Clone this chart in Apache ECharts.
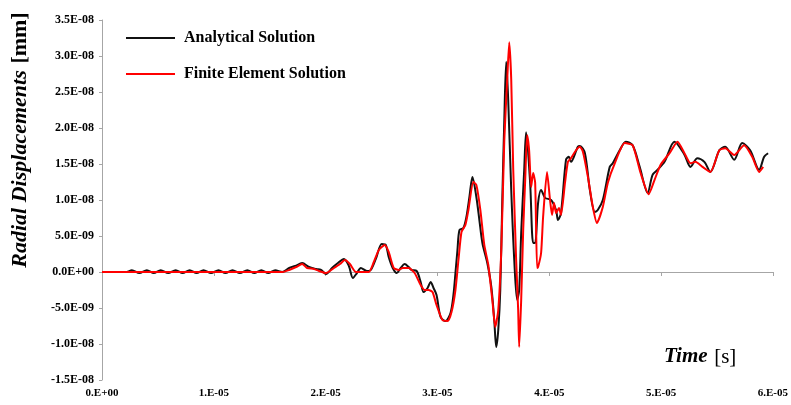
<!DOCTYPE html>
<html lang="en">

<head>
    <meta charset="UTF-8">
    <title>Radial Displacements</title>
    <script src="https://cdn.jsdelivr.net/npm/echarts@6/dist/echarts.min.js"></script>
    <style>
        body { margin: 0; background: #fff; }
        #chart { width: 791px; height: 405px; }
    </style>
</head>

<body>
    <div id="chart"></div>
    <script>
        // time in microseconds, displacement in 1e-9 mm
        var timeAnalytical = [0, 2.2, 2.67, 3.34, 4.01, 4.63, 5.25, 5.92, 6.59, 7.21, 7.84, 8.46, 9.08, 9.75, 10.42, 11.04, 11.67, 12.33, 13.0, 13.62, 14.25, 14.87, 15.49, 16.12,
            16.74, 17.28, 17.9, 18.52, 19.15, 19.59, 20.04, 20.57, 21.1, 21.64, 22.08, 22.44, 22.8, 23.15, 23.69, 24.04, 24.49, 25.02, 25.38, 25.64, 26.0, 26.36, 26.71, 27.07, 27.43, 27.69, 28.14,
            28.5, 28.76, 29.12, 29.39, 29.65, 29.92, 30.28, 30.72, 31.17, 31.43, 31.61, 31.79, 31.97, 32.32, 32.59, 32.86, 33.13, 33.48, 33.75, 34.02, 34.46, 34.82, 35.08, 35.26, 35.44, 35.62, 35.8, 35.98,
            36.15, 36.33, 36.6, 36.87, 37.13, 37.31, 37.49, 37.76, 37.93, 38.29, 38.56, 38.74, 39.0, 39.27, 39.63, 40.16, 40.61, 40.78, 41.05, 41.5, 41.76, 41.94, 42.56, 42.74, 43.19, 43.63,
            44.08, 44.34, 44.79, 45.41, 45.68, 46.3, 46.84, 47.46, 48.09, 48.8, 49.24, 49.69, 50.31, 51.2, 52.09, 52.63, 53.25, 53.87, 54.41, 55.21, 55.74, 56.54, 57.26, 57.97, 58.77, 59.22, 59.57
        ]
        var dispAnalytical = [0, 0, 0.25, -0.15, 0.25, -0.15, 0.25, -0.15, 0.25, -0.15, 0.25, -0.15, 0.25, -0.15, 0.25, -0.15, 0.25, -0.15, 0.25, -0.15, 0.25, -0.15, 0.25, 0,
            0.56, 0.83, 1.25, 0.69, 0.42, 0.28, -0.28, 0.56, 1.25, 1.81, 0.83, -0.83, -0.14, 0.56, 0.14, 0.28, 1.81, 3.89, 3.75, 2.08, 0.56, -0.14, 0.56, 1.11, 0.69, 0.28, 0.14,
            -1.39, -2.78, -2.22, -1.39, -2.22, -3.19, -6.25, -6.81, -5.69, -3.19, -0.14, 3.06, 5.83, 6.11, 7.64, 10.42, 13.19, 10.42, 7.22, 4.03, 1.25, -2.08, -6.67, -10.42, -8.06, -2.5, 10.0, 21.1,
            29.2, 23.9, 11.4, 1.67, -3.89, -2.5, 5.42, 14.2, 19.4, 12.4, 4.03, 4.03, 9.58, 11.4, 10.3, 10.0, 8.61, 7.22, 8.19, 15.6, 16.0, 15.3, 17.4, 17.5, 16.5, 11.4,
            8.33, 8.61, 10.0, 14.6, 15.1, 16.9, 18.1, 17.6, 14.6, 11.0, 13.5, 14.2, 15.3, 18.1, 16.3, 14.6, 15.8, 15.3, 13.9, 16.9, 17.4, 15.6, 17.9, 16.9, 14.2, 16.0, 16.5
        ]

        var timeFE = [0, 16.12, 16.74, 17.36, 17.9, 18.34, 18.97, 19.41, 20.04, 20.75, 21.28, 21.73, 22.17, 22.71, 23.15, 23.86, 24.31, 24.76, 25.29, 25.64, 26.09, 26.54, 26.89, 27.43, 27.96,
            28.5, 28.85, 29.21, 29.56, 29.92, 30.45, 30.9, 31.26, 31.61, 31.88, 32.15, 32.5, 32.77, 33.21, 33.48, 33.84, 34.19, 34.55, 34.91, 35.17, 35.44, 35.71, 35.98, 36.24, 36.42, 36.6, 36.78,
            37.04, 37.22, 37.31, 37.49, 37.67, 37.85, 38.02, 38.2, 38.38, 38.56, 38.74, 38.91, 39.0, 39.27, 39.45, 39.8, 40.07, 40.25, 40.43, 40.61, 40.87, 41.05, 41.41, 41.67, 41.94, 42.39, 42.74,
            43.01, 43.46, 43.9, 44.26, 44.79, 45.24, 45.86, 46.75, 47.46, 48.17, 48.89, 49.42, 49.96, 50.76, 51.47, 52.09, 52.63, 53.07, 53.7, 54.41, 55.21, 55.74, 56.54, 57.43, 58.15, 58.77, 59.13
        ]
        var dispFE = [0, 0, 0.28, 0.69, 1.11, 0.56, 0.42, 0.14, -0.14, 0.56, 1.11, 1.67, 1.11, 0, 0, 0, 1.39, 3.06, 3.75, 2.78, 0.56, 0.28, 0.56, 0.56, -0.14,
            -1.81, -2.5, -2.5, -2.78, -4.58, -6.67, -6.81, -5.56, -2.5, 1.67, 5.56, 6.53, 8.61, 12.5, 12.1, 8.61, 3.75, 0.97, -3.89, -7.64, -5.28, 3.06, 18.3, 26.7, 31.9, 26.7, 14.2,
            1.67, -5.28, -10.4, -3.89, 5.83, 12.8, 19.0, 16.9, 11.8, 13.75, 12.4, 0.56, 0.69, 2.64, 7.64, 13.9, 10.0, 7.92, 9.58, 8.19, 8.89, 7.92, 12.4, 15.3, 15.8, 16.9, 17.4,
            16.7, 13.2, 9.03, 6.81, 9.03, 12.4, 15.1, 17.9, 17.6, 13.75, 10.8, 12.8, 14.9, 16.5, 18.1, 16.5, 15.1, 15.3, 14.6, 13.9, 16.9, 17.2, 16.25, 17.6, 16.0, 13.9, 14.6
        ]

        var seriesNames = ['Analytical Solution', 'Finite Element Solution']
        var seriesColors = ['#111111', '#ff0000']

        function pairs(xs, ys) {
            return xs.map(function(x, i) {
                return [x, ys[i]]
            })
        }

        // 1.E-05 style
        function fmtX(v) {
            var s = (v * 1e-6).toExponential(0).split('e')
            var e = parseInt(s[1], 10)
            return s[0] + '.E' + (e < 0 ? '-' : '+') + String(Math.abs(e)).padStart(2, '0')
        }
        // 3.5E-08 style
        function fmtY(v) {
            var s = (v * 1e-9).toExponential(1).split('e')
            var e = parseInt(s[1], 10)
            return s[0] + 'E' + (e < 0 ? '-' : '+') + String(Math.abs(e)).padStart(2, '0')
        }

        var labelFont = {
            fontFamily: 'Liberation Serif',
            fontWeight: 'bold',
            fontSize: 12,
            color: '#000'
        }

        var mCharts = echarts.init(document.getElementById('chart'))
        var option = {
            animation: false,
            backgroundColor: '#fff',
            grid: {
                left: 102,
                right: 15,
                top: 20,
                bottom: 25
            },
            legend: {
                orient: 'vertical',
                left: 121,
                top: 25,
                itemWidth: 49,
                itemHeight: 2,
                itemGap: 20,
                icon: 'rect',
                data: seriesNames,
                textStyle: {
                    fontFamily: 'Liberation Serif',
                    fontWeight: 'bold',
                    fontSize: 16,
                    color: '#000',
                    padding: [0, 0, 0, 4]
                }
            },
            xAxis: [{
                type: 'value',
                min: 0,
                max: 60,
                interval: 10,
                position: 'bottom',
                axisLine: { show: false, onZero: false },
                axisTick: { show: false },
                splitLine: { show: false },
                axisLabel: Object.assign({ margin: 8, formatter: fmtX }, labelFont, { fontSize: 11 })
            }, {
                type: 'value',
                min: 0,
                max: 60,
                interval: 10,
                position: 'bottom',
                axisLine: { onZero: true, lineStyle: { color: '#a6a6a6', width: 1 } },
                axisTick: { show: true, length: 4, lineStyle: { color: '#a6a6a6' } },
                axisLabel: { show: false },
                splitLine: { show: false }
            }],
            yAxis: {
                type: 'value',
                min: -15,
                max: 35,
                interval: 5,
                axisLine: { show: true, lineStyle: { color: '#a6a6a6', width: 1 } },
                axisTick: { show: true, length: 3, lineStyle: { color: '#a6a6a6' } },
                splitLine: { show: false },
                axisLabel: Object.assign({ margin: 8, formatter: fmtY }, labelFont)
            },
            series: [{
                name: seriesNames[0],
                type: 'line',
                xAxisIndex: 0,
                data: pairs(timeAnalytical, dispAnalytical),
                showSymbol: false,
                smooth: 0.3,
                color: seriesColors[0],
                lineStyle: { width: 2, color: seriesColors[0] }
            }, {
                name: seriesNames[1],
                type: 'line',
                xAxisIndex: 0,
                data: pairs(timeFE, dispFE),
                showSymbol: false,
                smooth: 0.2,
                color: seriesColors[1],
                lineStyle: { width: 2, color: seriesColors[1] }
            }],
            graphic: [{
                type: 'text',
                x: 20,
                y: 140,
                rotation: Math.PI / 2,
                style: {
                    text: '{a|Radial Displacements}  {b|[mm]}',
                    align: 'center',
                    verticalAlign: 'middle',
                    rich: {
                        a: { fontFamily: 'Liberation Serif', fontStyle: 'italic', fontWeight: 'bold', fontSize: 22, fill: '#000' },
                        b: { fontFamily: 'Liberation Serif', fontWeight: 'bold', fontSize: 22, fill: '#000' }
                    }
                }
            }, {
                type: 'text',
                x: 664,
                y: 357,
                style: {
                    text: '{a|Time}  {b|[s]}',
                    align: 'left',
                    verticalAlign: 'middle',
                    rich: {
                        a: { fontFamily: 'Liberation Serif', fontStyle: 'italic', fontWeight: 'bold', fontSize: 21, fill: '#000' },
                        b: { fontFamily: 'Liberation Serif', fontSize: 21, fill: '#000' }
                    }
                }
            }]
        }
        mCharts.setOption(option)
    </script>
</body>

</html>
